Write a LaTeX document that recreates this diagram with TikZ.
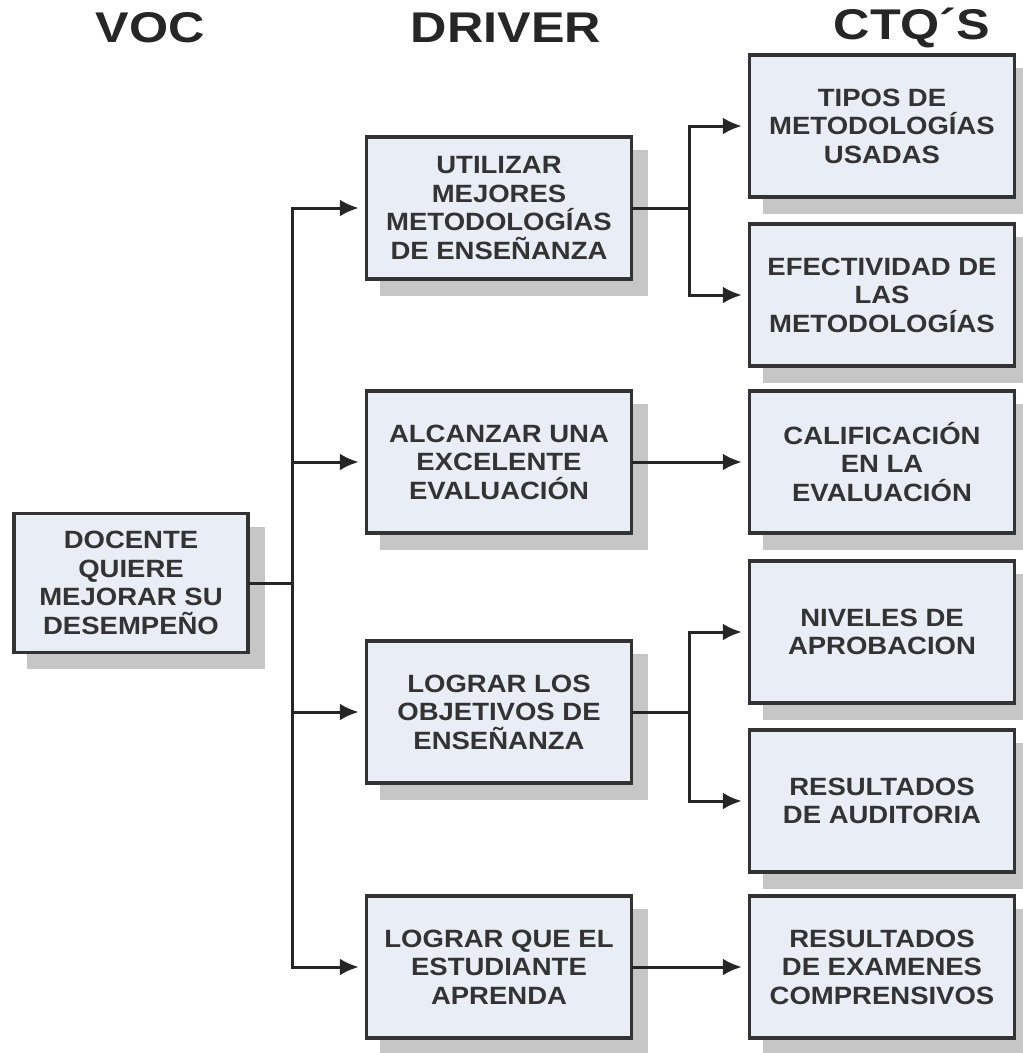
\documentclass[tikz,border=0pt]{standalone}
\usepackage{fontspec}
\setmainfont{Liberation Sans}
\newfontfamily\isifont{Liberation Sans}[FakeStretch=1.1]
\newfontfamily\judulfont{Liberation Sans}[FakeStretch=1.17]
\usepackage{xcolor}
\usepackage{tikz}
\usetikzlibrary{arrows.meta, shadows}
\definecolor{kotakbiru}{RGB}{233, 237, 246}
\definecolor{bayang}{RGB}{198, 198, 198}

\begin{document}
\begin{tikzpicture}[
    x=1pt, y=-1pt,
    kotak/.style={draw=black!80, line width=3.5pt, fill=kotakbiru, align=center,
                  minimum width=265pt, minimum height=142pt, inner sep=4pt,
                  font=\isifont\bfseries\fontsize{25}{28.5}\selectfont, text=black!80,
                  drop shadow={shadow xshift=15pt, shadow yshift=-15pt,
                               fill=bayang, draw=bayang, opacity=1}},
    judul/.style={font=\judulfont\bfseries\fontsize{43}{43}\selectfont, text=black!85},
    garis/.style={black!85, line width=3pt, line cap=rect},
    panah/.style={garis, -{Latex[length=19pt, width=17pt]}, shorten >=6pt}
  ]
    \useasboundingbox (0,0) rectangle (1023,1053);
    % judul kolom
    \node[judul] (hvoc) at (150,28) {VOC};
    \node[judul] (hdriver) at (506,28) {DRIVER};
    \node[judul] (hctq) at (912,28) {CTQ´S};
    % voc
    \node[kotak, minimum width=234pt, minimum height=139pt] (voc) at (131,583)
      {DOCENTE\\QUIERE\\MEJORAR SU\\DESEMPEÑO};
    % driver
    \node[kotak] (d1) at (499,208) {UTILIZAR\\MEJORES\\METODOLOGÍAS\\DE ENSEÑANZA};
    \node[kotak] (d2) at (499,462) {ALCANZAR UNA\\EXCELENTE\\EVALUACIÓN};
    \node[kotak] (d3) at (499,712) {LOGRAR LOS\\OBJETIVOS DE\\ENSEÑANZA};
    \node[kotak] (d4) at (499,967) {LOGRAR QUE EL\\ESTUDIANTE\\APRENDA};
    % ctq
    \node[kotak] (c1) at (882,126) {TIPOS DE\\METODOLOGÍAS\\USADAS};
    \node[kotak] (c2) at (882,295) {EFECTIVIDAD DE\\LAS\\METODOLOGÍAS};
    \node[kotak] (c3) at (882,462) {CALIFICACIÓN\\EN LA\\EVALUACIÓN};
    \node[kotak] (c4) at (882,632) {NIVELES DE\\APROBACION};
    \node[kotak] (c5) at (882,801) {RESULTADOS\\DE AUDITORIA};
    \node[kotak] (c6) at (882,967) {RESULTADOS\\DE EXAMENES\\COMPRENSIVOS};
    % titik cabang
    \coordinate (batang) at (292,583);
    \coordinate (cabang1) at (689,208);
    \coordinate (cabang3) at (689,712);
    % voc ke driver
    \draw[garis] (voc) -- (batang);
    \draw[garis] (batang |- d1) -- (batang |- d4);
    \draw[panah] (batang |- d1) -- (d1);
    \draw[panah] (batang |- d2) -- (d2);
    \draw[panah] (batang |- d3) -- (d3);
    \draw[panah] (batang |- d4) -- (d4);
    % driver ke ctq
    \draw[garis] (d1) -- (cabang1);
    \draw[garis] (cabang1 |- c1) -- (cabang1 |- c2);
    \draw[panah] (cabang1 |- c1) -- (c1);
    \draw[panah] (cabang1 |- c2) -- (c2);
    \draw[panah] (d2) -- (c3);
    \draw[garis] (d3) -- (cabang3);
    \draw[garis] (cabang3 |- c4) -- (cabang3 |- c5);
    \draw[panah] (cabang3 |- c4) -- (c4);
    \draw[panah] (cabang3 |- c5) -- (c5);
    \draw[panah] (d4) -- (c6);
\end{tikzpicture}
\end{document}
